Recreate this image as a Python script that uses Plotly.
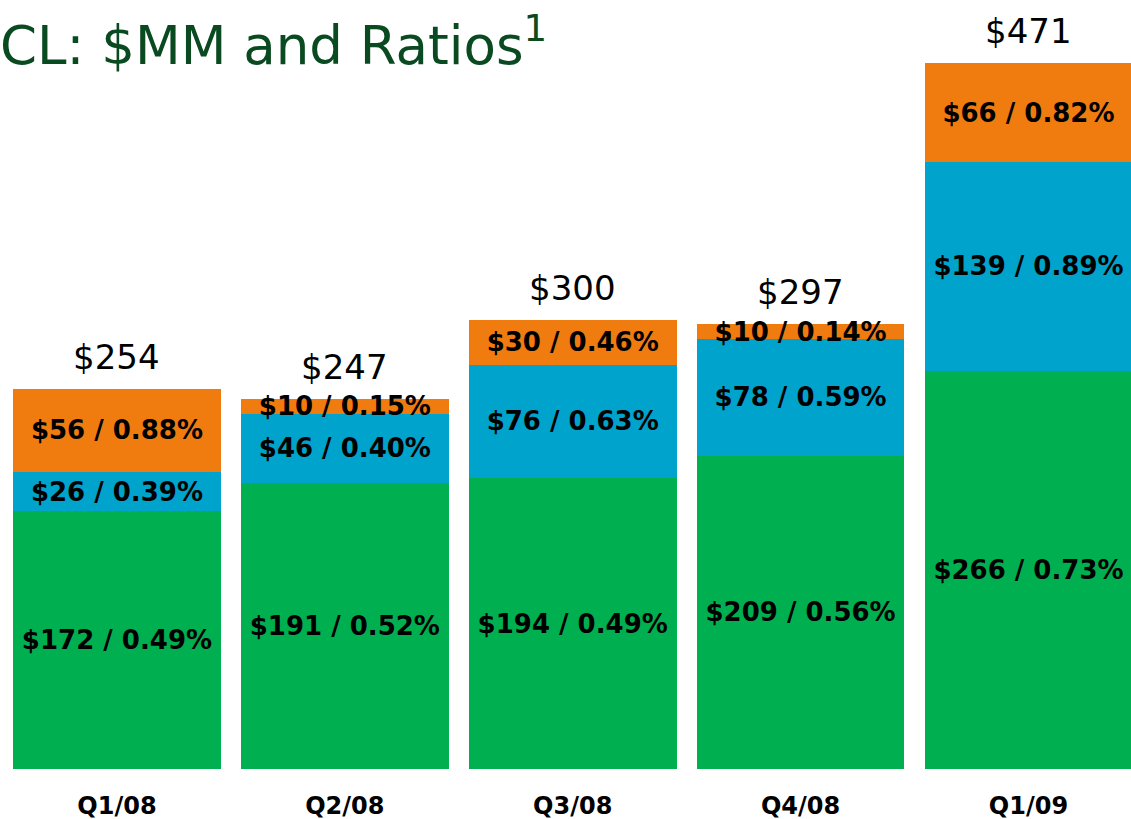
import plotly.graph_objects as go

categories = ["Q1/08", "Q2/08", "Q3/08", "Q4/08", "Q1/09"]
green_mm = [172, 191, 194, 209, 266]
green_ratio = [0.49, 0.52, 0.49, 0.56, 0.73]
blue_mm = [26, 46, 76, 78, 139]
blue_ratio = [0.39, 0.40, 0.63, 0.59, 0.89]
orange_mm = [56, 10, 30, 10, 66]
orange_ratio = [0.88, 0.15, 0.46, 0.14, 0.82]
totals = [254, 247, 300, 297, 471]

title_text = "CL: $MM and Ratios<sup>1</sup>"

def labels(vals, ratios):
    return [f"${v} / {r:.2f}%" for v, r in zip(vals, ratios)]

series = [
    (green_mm, green_ratio, "#00B050"),
    (blue_mm, blue_ratio, "#00A3CB"),
    (orange_mm, orange_ratio, "#F07C10"),
]

fig = go.Figure()
for vals, ratios, color in series:
    fig.add_trace(go.Bar(
        x=categories, y=vals, marker=dict(color=color, line=dict(width=0)),
        text=labels(vals, ratios), textposition="inside", insidetextanchor="middle",
        constraintext="none", textangle=0,
        insidetextfont=dict(family="DejaVu Sans", size=26, color="black", weight="bold"),
        hoverinfo="skip", showlegend=False,
    ))

for c, t in zip(categories, totals):
    fig.add_annotation(x=c, y=t, text=f"${t}", showarrow=False, yanchor="bottom",
                       yshift=10, font=dict(family="DejaVu Sans", size=34, color="black"))

fig.update_layout(
    barmode="stack", bargap=0.088,
    width=1131, height=819,
    margin=dict(l=3, r=0, t=20, b=50),
    paper_bgcolor="white", plot_bgcolor="white",
    title=dict(text=title_text, x=0, xref="container", xanchor="left",
               y=1 - 45 / 819, yref="container", yanchor="middle",
               font=dict(family="DejaVu Sans", size=53, color="#0A4A20")),
    xaxis=dict(range=[-0.5, 4.45], showgrid=False, showline=False, zeroline=False,
               tickfont=dict(family="DejaVu Sans", size=24, color="black", weight="bold"),
               ticklabelstandoff=20, fixedrange=True),
    yaxis=dict(range=[0, 500], visible=False, fixedrange=True),
)

fig.write_html("out.html", config={"displayModeBar": False},
               post_script="document.body.style.margin='0';document.body.style.overflow='hidden';")
